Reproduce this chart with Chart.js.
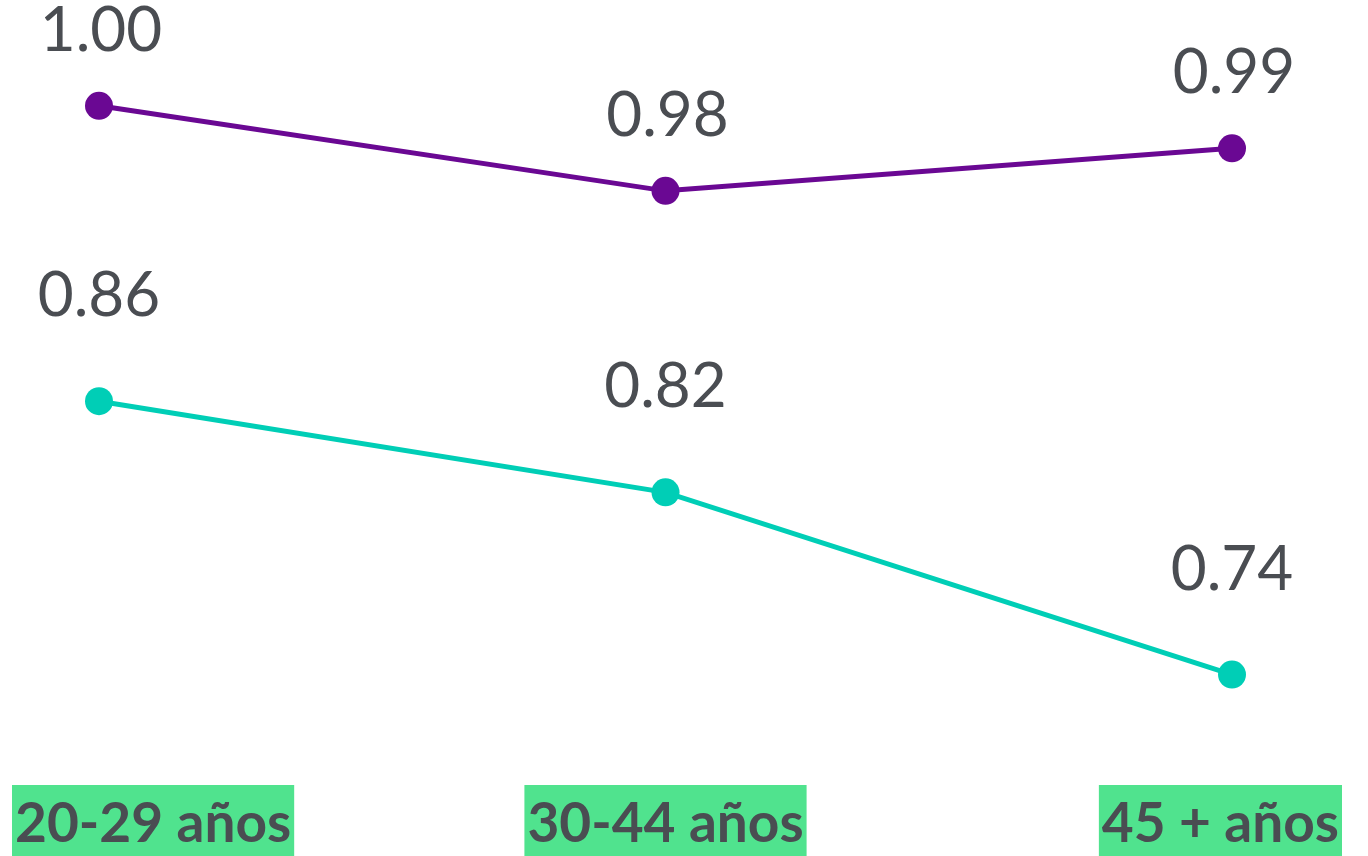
<!DOCTYPE html>
<html>
<head>
<meta charset="utf-8">
<style>
  html, body { margin: 0; padding: 0; background: #ffffff; }
  #wrap { width: 1368px; height: 856px; position: relative; }
</style>
<script src="https://cdn.jsdelivr.net/npm/chart.js@4.4.1/dist/chart.umd.min.js"></script>
</head>
<body>
<div id="wrap"><canvas id="chart" width="1368" height="856"></canvas></div>
<script>
// Age groups and index values per series
const categories = ['20-29 años', '30-44 años', '45 + años'];
const seriesTop = [1.00, 0.98, 0.99];
const seriesBottom = [0.86, 0.82, 0.74];

const TEXT = '#4a4d52';
const PURPLE = '#6a0893';
const TEAL = '#00ceb6';
const GREEN = '#50e38e';

// Value labels above each point
const valueLabels = {
  id: 'valueLabels',
  afterDatasetsDraw(chart) {
    const ctx = chart.ctx;
    ctx.save();
    ctx.font = '400 62px Lato, "Open Sans", sans-serif';
    ctx.fillStyle = TEXT;
    ctx.textAlign = 'center';
    ctx.textBaseline = 'middle';
    chart.data.datasets.forEach((ds, i) => {
      const meta = chart.getDatasetMeta(i);
      meta.data.forEach((pt, j) => {
        ctx.fillText(ds.data[j].toFixed(2), pt.x + ds.labelDx, pt.y - ds.labelDy);
      });
    });
    ctx.restore();
  }
};

// Category labels on green boxes along the bottom edge
const categoryBoxes = {
  id: 'categoryBoxes',
  afterDraw(chart) {
    const ctx = chart.ctx;
    const xs = chart.scales.x;
    const W = chart.width, H = chart.height;
    ctx.save();
    ctx.font = '700 55px Lato, "Open Sans", sans-serif';
    ctx.textBaseline = 'alphabetic';
    ctx.textAlign = 'left';
    chart.data.labels.forEach((lab, i) => {
      const tw = ctx.measureText(lab).width;
      const bw = tw + 6;
      let left = xs.getPixelForValue(i) - bw / 2;
      left = Math.max(12, Math.min(left, W - 26 - bw));
      ctx.fillStyle = GREEN;
      ctx.fillRect(left, H - 71, bw, 71);
      ctx.fillStyle = TEXT;
      ctx.fillText(lab, left + 3, H - 14);
    });
    ctx.restore();
  }
};

new Chart(document.getElementById('chart'), {
  type: 'line',
  data: {
    labels: categories,
    datasets: [
      {
        data: seriesTop,
        yAxisID: 'yTop',
        borderColor: PURPLE,
        backgroundColor: PURPLE,
        borderWidth: 5,
        pointRadius: 14,
        pointHoverRadius: 14,
        pointBorderWidth: 0,
        tension: 0,
        labelDx: 2,
        labelDy: 75
      },
      {
        data: seriesBottom,
        yAxisID: 'yBottom',
        borderColor: TEAL,
        backgroundColor: TEAL,
        borderWidth: 5,
        pointRadius: 14,
        pointHoverRadius: 14,
        pointBorderWidth: 0,
        tension: 0,
        labelDx: 0,
        labelDy: 105
      }
    ]
  },
  options: {
    responsive: false,
    animation: false,
    events: [],
    layout: { autoPadding: false, padding: { left: 99, right: 136, top: 0, bottom: 96 } },
    plugins: { legend: { display: false }, tooltip: { enabled: false } },
    scales: {
      x: { type: 'category', display: false, offset: false },
      yTop: { type: 'linear', display: false, min: 0.8461, max: 1.0249 },
      yBottom: { type: 'linear', display: false, min: 0.7025, max: 1.0361 }
    }
  },
  plugins: [valueLabels, categoryBoxes]
});
</script>
</body>
</html>
